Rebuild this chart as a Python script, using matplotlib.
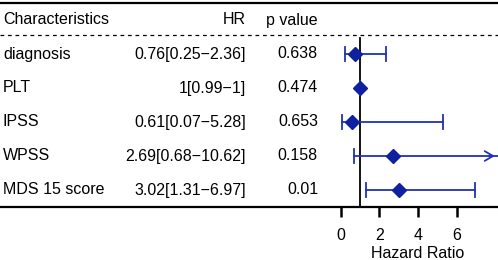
import matplotlib
matplotlib.use("Agg")
import matplotlib.pyplot as plt
from matplotlib.lines import Line2D
import matplotlib.transforms as mtransforms

plt.rcParams['font.family'] = ['Liberation Sans', 'DejaVu Sans']

# data
characteristics = ["diagnosis", "PLT", "IPSS", "WPSS", "MDS 15 score"]
hr = [0.76, 1, 0.61, 2.69, 3.02]
lower = [0.25, 0.99, 0.07, 0.68, 1.31]
upper = [2.36, 1, 5.28, 10.62, 6.97]
hr_labels = ["0.76[0.25\u22122.36]", "1[0.99\u22121]", "0.61[0.07\u22125.28]",
             "2.69[0.68\u221210.62]", "3.02[1.31\u22126.97]"]
p_values = ["0.638", "0.474", "0.653", "0.158", "0.01"]
x_ticks = [0, 2, 4, 6]

W, H = 498, 260
fig = plt.figure(figsize=(W / 100, H / 100), dpi=100)

top_px, bottom_px = 3, 207
left_px = 331
ax = fig.add_axes([left_px / W, (H - bottom_px) / H, 1 - left_px / W, (bottom_px - top_px) / H])
ax.set_xlim(-0.5, 8.14)
ax.set_ylim(4.5, -1.5)
ax.patch.set_visible(False)
for s in ax.spines.values():
    s.set_visible(False)
ax.set_yticks([])
ax.set_xticks(x_ticks)
ax.tick_params(axis='x', length=7, width=1.8, pad=8, labelsize=11.5, direction='out')
ax.set_xlabel("Hazard Ratio", fontsize=11.5, labelpad=0)
ax.xaxis.set_label_coords(0.52, -0.19)

line_col = '#2232b4'
dia_col = '#0f20a0'
xmax = ax.get_xlim()[1]
rows = list(range(len(characteristics)))

# reference line at HR = 1
ax.plot([1, 1], [-0.47, 4.5], color='black', lw=1.3, zorder=2, clip_on=False)

for i in rows:
    hi = min(upper[i], xmax)
    ax.plot([lower[i], hi], [i, i], color=line_col, lw=1.3, zorder=3, clip_on=False)
    ax.plot([lower[i], lower[i]], [i - 0.2, i + 0.2], color=line_col, lw=1.3, zorder=3)
    if upper[i] > xmax:
        ax.annotate("", xy=(xmax - 0.02, i), xytext=(xmax - 0.6, i),
                    arrowprops=dict(arrowstyle='->,head_length=0.6,head_width=0.35',
                                    color=line_col, lw=1.3), annotation_clip=False)
    else:
        ax.plot([hi, hi], [i - 0.2, i + 0.2], color=line_col, lw=1.3, zorder=3)
ax.plot(hr, rows, linestyle='none', marker='D', markersize=7.5, color=dia_col, zorder=4)

# table text, placed in figure x / data y
tr = mtransforms.blended_transform_factory(fig.transFigure, ax.transData)
fs = 11.5
ax.text(3 / W, -1, "Characteristics", transform=tr, fontsize=fs, va='center', ha='left')
ax.text(246 / W, -1, "HR", transform=tr, fontsize=fs, va='center', ha='right')
ax.text(318 / W, -1, "p value", transform=tr, fontsize=fs, va='center', ha='right')
for i in rows:
    ax.text(3 / W, i, characteristics[i], transform=tr, fontsize=fs, va='center', ha='left')
    ax.text(246 / W, i, hr_labels[i], transform=tr, fontsize=fs, va='center', ha='right')
    ax.text(318 / W, i, p_values[i], transform=tr, fontsize=fs, va='center', ha='right')

# table rules
fig.add_artist(Line2D([0, 1], [1 - 3 / H, 1 - 3 / H], color='black', lw=1.6, transform=fig.transFigure))
fig.add_artist(Line2D([0, 1], [1 - bottom_px / H, 1 - bottom_px / H], color='black', lw=1.6,
                      transform=fig.transFigure))
ax.plot([0, 1], [-0.55, -0.55], transform=tr, color='black', lw=0.9, linestyle=(0, (3, 3)), clip_on=False)

fig.savefig("out.png", dpi=100)
